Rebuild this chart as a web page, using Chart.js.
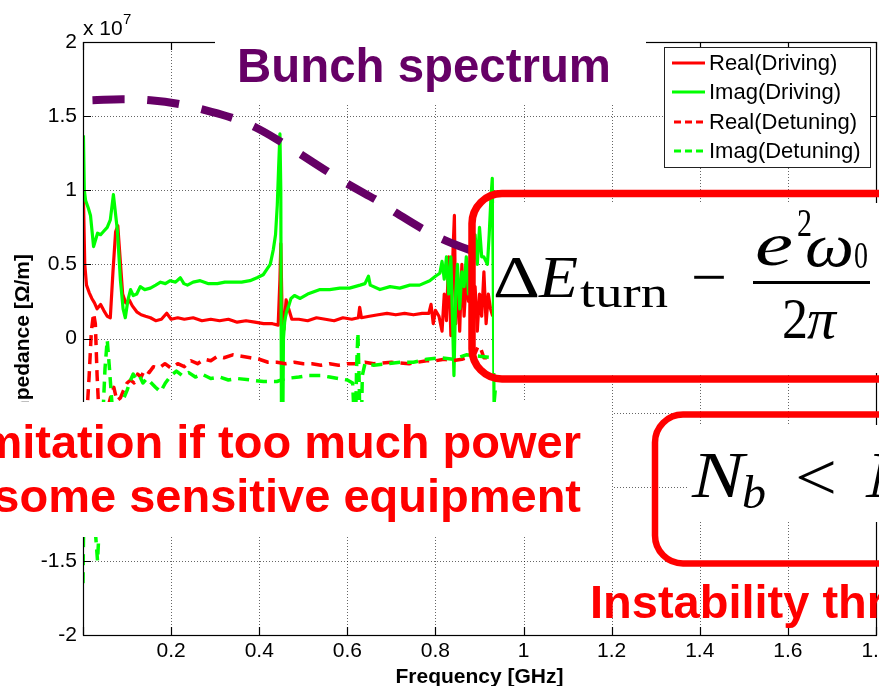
<!DOCTYPE html>
<html>
<head>
<meta charset="utf-8">
<script src="https://cdn.jsdelivr.net/npm/chart.js@4.4.1/dist/chart.umd.min.js"></script>
<style>
  html, body { margin: 0; padding: 0; background: #fff; }
  #wrap { width: 879px; height: 686px; }
</style>
</head>
<body>
<div id="wrap"><canvas id="impedanceChart" width="879" height="686"></canvas></div>
<script>
// Axis ticks (frequency in GHz, impedance in units of 1e7 Ohm/m)
const freqTicks = [0, 0.2, 0.4, 0.6, 0.8, 1, 1.2, 1.4, 1.6, 1.8];
const impTicks = [-2, -1.5, -1, -0.5, 0, 0.5, 1, 1.5, 2];
const seriesNames = ['Real(Driving)', 'Imag(Driving)', 'Real(Detuning)', 'Imag(Detuning)'];

// [frequency GHz, impedance x1e7]
const realDriving = [
  [0.001,0.95],[0.004,0.5],[0.008,0.36],[0.014,0.31],[0.02,0.27],[0.026,0.24],[0.032,0.2],[0.04,0.23],
  [0.047,0.19],[0.055,0.15],[0.062,0.14],[0.068,0.45],[0.074,0.72],[0.079,0.76],[0.084,0.55],[0.09,0.3],
  [0.097,0.24],[0.105,0.26],[0.112,0.22],[0.122,0.18],[0.132,0.16],[0.142,0.15],[0.153,0.14],[0.165,0.12],
  [0.178,0.13],[0.19,0.17],[0.2,0.13],[0.215,0.14],[0.23,0.13],[0.25,0.14],[0.27,0.12],[0.29,0.13],
  [0.31,0.12],[0.33,0.13],[0.35,0.11],[0.37,0.12],[0.39,0.11],[0.41,0.1],[0.43,0.1],[0.443,0.09],
  [0.447,0.4],[0.449,0.64],[0.452,0.15],[0.456,0.06],[0.461,0.26],[0.467,0.2],[0.474,0.13],[0.49,0.13],
  [0.51,0.12],[0.53,0.14],[0.55,0.13],[0.57,0.12],[0.59,0.14],[0.61,0.13],[0.625,0.14],[0.628,0.21],
  [0.632,0.14],[0.65,0.15],[0.67,0.16],[0.69,0.17],[0.71,0.16],[0.73,0.17],[0.75,0.16],[0.77,0.17],
  [0.785,0.17],[0.79,0.23],[0.795,0.1],[0.8,0.19],[0.808,0.15],[0.815,0.05],[0.82,0.3],[0.825,0.12],
  [0.83,0.55],[0.835,0.02],[0.84,0.6],[0.843,0.83],[0.846,0.1],[0.85,0.45],[0.855,0.05],[0.86,0.5],
  [0.865,0.15],[0.87,0.4],[0.875,0.25],[0.88,0.55],[0.885,0.1],[0.89,0.35],[0.895,0.05],[0.9,0.3],
  [0.905,0.15],[0.91,0.45],[0.915,0.1],[0.92,0.3],[0.925,0.2],[0.93,0.15]
];
const imagDriving = [
  [0.001,1.37],[0.003,1.0],[0.006,0.93],[0.012,0.88],[0.017,0.83],[0.024,0.62],[0.033,0.71],[0.04,0.7],
  [0.046,0.72],[0.055,0.75],[0.062,0.8],[0.069,0.97],[0.078,0.73],[0.085,0.39],[0.091,0.2],[0.096,0.14],
  [0.102,0.26],[0.108,0.33],[0.114,0.29],[0.122,0.3],[0.13,0.35],[0.14,0.33],[0.153,0.34],[0.165,0.36],
  [0.176,0.38],[0.187,0.37],[0.198,0.39],[0.21,0.38],[0.221,0.41],[0.229,0.37],[0.237,0.36],[0.25,0.38],
  [0.266,0.39],[0.285,0.37],[0.305,0.37],[0.322,0.38],[0.341,0.38],[0.36,0.38],[0.379,0.39],[0.395,0.41],
  [0.409,0.43],[0.418,0.47],[0.425,0.5],[0.432,0.6],[0.437,0.7],[0.441,0.9],[0.444,1.15],[0.447,1.38],
  [0.449,1.0],[0.451,-1.2],[0.453,-0.9],[0.455,0.0],[0.458,0.12],[0.462,0.18],[0.467,0.22],[0.472,0.27],
  [0.48,0.29],[0.493,0.27],[0.51,0.3],[0.538,0.33],[0.56,0.33],[0.583,0.34],[0.605,0.34],[0.629,0.36],
  [0.64,0.37],[0.648,0.42],[0.652,0.36],[0.674,0.33],[0.697,0.35],[0.719,0.34],[0.742,0.36],[0.764,0.36],
  [0.787,0.39],[0.8,0.42],[0.81,0.44],[0.815,0.52],[0.82,0.4],[0.825,0.55],[0.83,0.3],[0.835,0.55],
  [0.839,0.1],[0.842,-0.25],[0.846,0.3],[0.85,0.5],[0.855,0.2],[0.86,0.45],[0.865,0.35],[0.87,0.55],
  [0.875,0.3],[0.88,0.6],[0.885,0.45],[0.89,0.7],[0.895,0.5],[0.9,0.75],[0.905,0.55],[0.91,0.55],
  [0.918,0.5],[0.922,0.7],[0.926,0.95],[0.929,1.08],[0.931,0.5],[0.933,-0.45],[0.936,-0.35]
];
const realDetuning = [
  [0.002,-0.9],[0.008,-0.55],[0.014,-0.25],[0.019,0.05],[0.024,0.17],[0.028,0.1],[0.032,-0.25],[0.036,-0.5],
  [0.042,-0.7],[0.05,-0.55],[0.058,-0.45],[0.064,-0.38],[0.07,-0.33],[0.077,-0.42],[0.085,-0.4],[0.092,-0.35],
  [0.1,-0.3],[0.108,-0.28],[0.116,-0.3],[0.124,-0.24],[0.132,-0.26],[0.14,-0.21],[0.15,-0.23],[0.16,-0.19],
  [0.172,-0.2],[0.186,-0.17],[0.2,-0.2],[0.215,-0.17],[0.23,-0.19],[0.245,-0.15],[0.26,-0.17],[0.275,-0.14],
  [0.29,-0.15],[0.305,-0.12],[0.32,-0.13],[0.34,-0.11],[0.36,-0.12],[0.38,-0.13],[0.4,-0.14],[0.42,-0.16],
  [0.44,-0.16],[0.46,-0.17],[0.48,-0.16],[0.5,-0.17],[0.52,-0.17],[0.54,-0.18],[0.56,-0.17],[0.58,-0.18],
  [0.6,-0.17],[0.62,-0.17],[0.64,-0.16],[0.66,-0.17],[0.7,-0.16],[0.74,-0.17],[0.78,-0.15],[0.8,-0.15],
  [0.82,-0.14],[0.84,-0.15],[0.86,-0.14],[0.88,-0.12],[0.89,-0.1],[0.897,-0.05],[0.903,-0.07],[0.91,-0.13],
  [0.93,-0.13]
];
const imagDetuning = [
  [0.0,-1.65],[0.002,-1.1],[0.008,-0.8],[0.015,-0.75],[0.022,-1.0],[0.028,-1.3],[0.033,-1.5],[0.038,-1.2],
  [0.044,-0.6],[0.05,-0.2],[0.055,-0.01],[0.06,-0.2],[0.066,-0.45],[0.074,-0.5],[0.082,-0.46],[0.09,-0.42],
  [0.1,-0.35],[0.108,-0.28],[0.114,-0.24],[0.12,-0.27],[0.128,-0.25],[0.136,-0.3],[0.145,-0.27],[0.155,-0.3],
  [0.165,-0.33],[0.176,-0.36],[0.187,-0.3],[0.2,-0.25],[0.212,-0.22],[0.225,-0.25],[0.24,-0.23],[0.255,-0.26],
  [0.27,-0.24],[0.29,-0.27],[0.31,-0.26],[0.33,-0.28],[0.35,-0.27],[0.38,-0.28],[0.41,-0.29],[0.44,-0.29],
  [0.46,-0.27],[0.49,-0.26],[0.51,-0.25],[0.54,-0.25],[0.56,-0.26],[0.58,-0.27],[0.6,-0.28],[0.612,-0.3],
  [0.618,-0.7],[0.621,-0.2],[0.624,0.04],[0.627,-0.3],[0.63,-0.9],[0.634,-0.25],[0.64,-0.17],[0.66,-0.18],
  [0.69,-0.17],[0.72,-0.16],[0.75,-0.16],[0.78,-0.14],[0.81,-0.13],[0.84,-0.14],[0.87,-0.11],[0.9,-0.12],
  [0.93,-0.13]
];
// hand-drawn bunch spectrum envelope
const bunchSpectrum = [
  [0.0215,1.607],[0.0895,1.614],[0.153,1.607],[0.221,1.58],[0.277,1.54],[0.341,1.486],[0.391,1.425],
  [0.454,1.318],[0.497,1.237],[0.561,1.115],[0.606,1.034],[0.674,0.92],[0.712,0.846],[0.776,0.731],
  [0.826,0.657],[0.896,0.576]
];

const SANS = "'Liberation Sans', Arial, Helvetica, sans-serif";
const SERIF = "'Liberation Serif', 'DejaVu Serif', 'Times New Roman', serif";
const RED = '#ff0000';
const GREEN = '#00ff00';
const PURPLE = '#660066';

function toPoints(pairs) {
  return pairs.map(([f, z]) => ({ x: f, y: z }));
}

// draw a text, optionally stretched to a given width
function textAt(ctx, text, x, y, font, color, width, align) {
  ctx.save();
  ctx.font = font;
  ctx.fillStyle = color;
  ctx.textBaseline = 'alphabetic';
  ctx.textAlign = align || 'left';
  if (width) {
    const w = ctx.measureText(text).width;
    ctx.translate(x, y);
    ctx.scale(width / w, 1);
    ctx.fillText(text, 0, 0);
  } else {
    ctx.fillText(text, x, y);
  }
  ctx.restore();
}

function roundedBox(ctx, x, y, w, h, r, lw, color) {
  ctx.save();
  ctx.beginPath();
  ctx.moveTo(x + r, y);
  ctx.lineTo(x + w - r, y);
  ctx.arcTo(x + w, y, x + w, y + r, r);
  ctx.lineTo(x + w, y + h - r);
  ctx.arcTo(x + w, y + h, x + w - r, y + h, r);
  ctx.lineTo(x + r, y + h);
  ctx.arcTo(x, y + h, x, y + h - r, r);
  ctx.lineTo(x, y + r);
  ctx.arcTo(x, y, x + r, y, r);
  ctx.closePath();
  ctx.lineWidth = lw;
  ctx.strokeStyle = color;
  ctx.stroke();
  ctx.restore();
}

function whiteRect(ctx, x, y, w, h) {
  ctx.save();
  ctx.fillStyle = '#fff';
  ctx.fillRect(x, y, w, h);
  ctx.restore();
}

const matlabAxes = {
  id: 'matlabAxes',
  beforeDatasetsDraw(chart) {
    const { ctx, chartArea: a, scales: { x, y } } = chart;
    ctx.save();
    ctx.strokeStyle = 'rgba(0,0,0,0.6)';
    ctx.lineWidth = 1;
    ctx.setLineDash([1, 2]);
    freqTicks.forEach(v => {
      const px = Math.round(x.getPixelForValue(v)) + 0.5;
      if (px <= a.left + 2 || px >= a.right - 2) return;
      ctx.beginPath(); ctx.moveTo(px, a.top); ctx.lineTo(px, a.bottom); ctx.stroke();
    });
    impTicks.forEach(v => {
      const py = Math.round(y.getPixelForValue(v)) + 0.5;
      if (py <= a.top + 2 || py >= a.bottom - 2) return;
      ctx.beginPath(); ctx.moveTo(a.left, py); ctx.lineTo(a.right, py); ctx.stroke();
    });
    ctx.restore();
  },

  afterDatasetsDraw(chart) {
    const { ctx, chartArea: a, scales: { x, y } } = chart;
    ctx.save();
    // axes box
    ctx.strokeStyle = '#000';
    ctx.lineWidth = 1.2;
    ctx.strokeRect(Math.round(a.left) + 0.5, Math.round(a.top) + 0.5,
      Math.round(a.right - a.left), Math.round(a.bottom - a.top));
    // inward tick marks
    const tl = 8;
    ctx.beginPath();
    freqTicks.forEach(v => {
      const px = Math.round(x.getPixelForValue(v)) + 0.5;
      ctx.moveTo(px, a.bottom); ctx.lineTo(px, a.bottom - tl);
      ctx.moveTo(px, a.top); ctx.lineTo(px, a.top + tl);
    });
    impTicks.forEach(v => {
      const py = Math.round(y.getPixelForValue(v)) + 0.5;
      ctx.moveTo(a.left, py); ctx.lineTo(a.left + tl, py);
      ctx.moveTo(a.right, py); ctx.lineTo(a.right - tl, py);
    });
    ctx.stroke();
    ctx.restore();

    // exponent label
    textAt(ctx, 'x 10', a.left, 35, '21px ' + SANS, '#000');
    textAt(ctx, '7', a.left + 40, 24, '15px ' + SANS, '#000');

    // axis titles
    textAt(ctx, 'Frequency [GHz]', (a.left + a.right) / 2, 683, 'bold 21px ' + SANS, '#000', null, 'center');
    ctx.save();
    ctx.translate(29, 254);
    ctx.rotate(-Math.PI / 2);
    textAt(ctx, 'Impedance [\u03A9/m]', 0, 0, 'bold 21px ' + SANS, '#000', null, 'right');
    ctx.restore();

    // legend
    const lx = 664.5, ly = 47.5, lw = 206, lh = 120;
    ctx.save();
    ctx.fillStyle = '#fff';
    ctx.fillRect(lx, ly, lw, lh);
    ctx.strokeStyle = '#222';
    ctx.lineWidth = 1;
    ctx.strokeRect(lx, ly, lw, lh);
    const rows = [63, 92, 122, 151];
    chart.data.datasets.filter(d => seriesNames.includes(d.label)).forEach(d => {
      const i = seriesNames.indexOf(d.label);
      const ry = rows[i];
      const dashed = d.borderDash && d.borderDash.length;
      ctx.beginPath();
      ctx.strokeStyle = d.borderColor;
      ctx.lineWidth = 3;
      ctx.setLineDash(dashed ? [7, 4] : []);
      ctx.moveTo(dashed ? 674 : 672, ry);
      ctx.lineTo(705, ry);
      ctx.stroke();
      ctx.setLineDash([]);
      ctx.font = '22px ' + SANS;
      ctx.fillStyle = '#000';
      ctx.textBaseline = 'middle';
      ctx.fillText(d.label, 709, ry + 1);
    });
    ctx.restore();
  },

  afterDraw(chart) {
    const { ctx } = chart;
    // title overlay
    whiteRect(ctx, 215, 0, 431, 103);
    textAt(ctx, 'Bunch spectrum', 237, 82, 'bold 48px ' + SANS, PURPLE, 374);

    // left comment overlay
    whiteRect(ctx, 0, 402, 612, 135);
    textAt(ctx, 'Limitation if too much power', 581, 458, 'bold 47px ' + SANS, RED, null, 'right');
    textAt(ctx, 'some sensitive equipment', 581, 512, 'bold 47px ' + SANS, RED, null, 'right');

    // energy-loss formula box
    whiteRect(ctx, 494, 203, 400, 170);
    textAt(ctx, '\u0394', 493, 297, '60px ' + SERIF, '#000', 47);
    textAt(ctx, 'E', 539, 297, 'italic 60px ' + SERIF, '#000', 39);
    textAt(ctx, 'turn', 580, 307, '44px ' + SERIF, '#000', 88);
    textAt(ctx, '\u2212', 691, 297, '60px ' + SERIF, '#000', 36);
    textAt(ctx, 'e', 755, 265, 'italic 62px ' + SERIF, '#000', 38);
    textAt(ctx, '2', 797, 236, '40px ' + SERIF, '#000', 15);
    textAt(ctx, '\u03C9', 805, 266, 'italic 62px ' + SERIF, '#000', 49);
    textAt(ctx, '0', 854, 268, '38px ' + SERIF, '#000', 14);
    ctx.save();
    ctx.fillStyle = '#000';
    ctx.fillRect(753, 281, 117, 3);
    ctx.restore();
    textAt(ctx, '2', 782, 338, '58px ' + SERIF, '#000', 26);
    textAt(ctx, '\u03C0', 807, 338, 'italic 58px ' + SERIF, '#000', 29);
    roundedBox(ctx, 472, 193.5, 500, 185.5, 30, 7.5, RED);

    // instability threshold box
    whiteRect(ctx, 688, 425, 200, 97);
    textAt(ctx, 'N', 692, 497, 'italic 66px ' + SERIF, '#000', 52);
    textAt(ctx, 'b', 742, 508, 'italic 46px ' + SERIF, '#000', 24);
    textAt(ctx, '<', 795, 500, '68px ' + SERIF, '#000', 42);
    textAt(ctx, 'N', 866, 497, 'italic 66px ' + SERIF, '#000', 52);
    roundedBox(ctx, 655, 414.5, 400, 149, 28, 6.5, RED);
    textAt(ctx, 'Instability threshold', 590, 618, 'bold 47px ' + SANS, RED);
  }
};

function lineSet(label, pairs, color, dashed, order) {
  return {
    label,
    data: toPoints(pairs),
    borderColor: color,
    backgroundColor: color,
    borderWidth: dashed ? 3.5 : 3.2,
    borderDash: dashed ? [11, 7] : [],
    borderJoinStyle: 'round',
    pointRadius: 0,
    showLine: true,
    tension: 0,
    order
  };
}

const datasets = [
  {
    label: 'Bunch spectrum',
    data: toPoints(bunchSpectrum),
    borderColor: PURPLE,
    borderWidth: 8,
    borderDash: [32, 23],
    borderCapStyle: 'butt',
    pointRadius: 0,
    showLine: true,
    tension: 0.4,
    order: 0
  },
  lineSet(seriesNames[3], imagDetuning, GREEN, true, 1),
  lineSet(seriesNames[2], realDetuning, RED, true, 2),
  lineSet(seriesNames[1], imagDriving, GREEN, false, 3),
  lineSet(seriesNames[0], realDriving, RED, false, 4)
];

const ctx = document.getElementById('impedanceChart').getContext('2d');
new Chart(ctx, {
  type: 'scatter',
  data: { datasets },
  options: {
    responsive: false,
    animation: false,
    devicePixelRatio: 1,
    layout: { padding: { top: 42, right: 3, left: 0, bottom: 0 } },
    plugins: {
      legend: { display: false },
      tooltip: { enabled: false }
    },
    scales: {
      x: {
        type: 'linear',
        min: 0,
        max: 1.8,
        grid: { display: false, drawTicks: false },
        border: { display: false },
        afterBuildTicks: s => { s.ticks = freqTicks.map(v => ({ value: v })); },
        afterFit: s => { s.height = 51; s.paddingLeft = 0; s.paddingRight = 0; },
        ticks: {
          autoSkip: false,
          maxRotation: 0,
          padding: 4,
          color: '#000',
          font: { family: SANS, size: 21 },
          callback: v => (v === 0 ? '' : String(v))
        }
      },
      y: {
        type: 'linear',
        min: -2,
        max: 2,
        grid: { display: false, drawTicks: false },
        border: { display: false },
        afterBuildTicks: s => { s.ticks = impTicks.map(v => ({ value: v })); },
        afterFit: s => { s.width = 83; s.paddingTop = 0; s.paddingBottom = 0; },
        ticks: {
          autoSkip: false,
          padding: 6,
          color: '#000',
          font: { family: SANS, size: 21 },
          callback: v => String(v)
        }
      }
    }
  },
  plugins: [matlabAxes]
});
</script>
</body>
</html>
